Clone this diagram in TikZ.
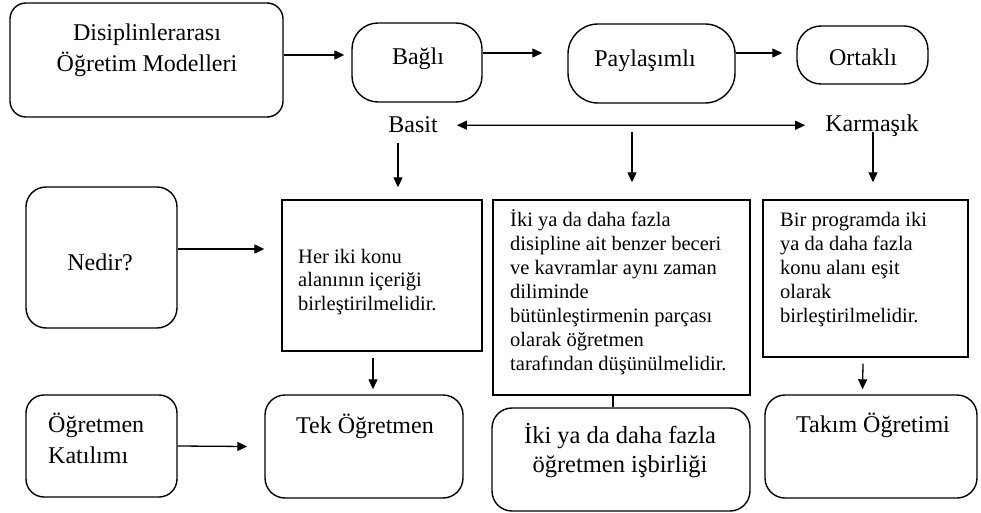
\documentclass[tikz,border=0pt]{standalone}
\usepackage{fontspec}
\setmainfont{Liberation Serif}
\usetikzlibrary{arrows.meta}
\begin{document}
\begin{tikzpicture}[x=1pt,y=-1pt,
  box/.style={draw,line width=1.4pt,inner sep=0pt},
  rbox/.style={box,rounded corners=#1},
  big/.style={inner sep=0pt,anchor=base,font=\fontsize{24}{31}\selectfont},
  small/.style={inner sep=0pt,font=\fontsize{20.5}{24}\selectfont,align=left,anchor=base west},
  arr/.style={line width=1.3pt,-{Triangle[length=10pt,width=9pt]}},
  dbl/.style={line width=1.3pt,{Triangle[length=10pt,width=9pt]}-{Triangle[length=10pt,width=9pt]}},
]
\useasboundingbox[fill=white] (0,0) rectangle (981,513);

% boxes
\node[rbox=16pt,minimum width=273pt,minimum height=114pt] (b1) at (146.5,60) {};
\node[rbox=26pt,minimum width=130pt,minimum height=79pt] (bagli) at (417,62.5) {};
\node[rbox=30pt,minimum width=167pt,minimum height=79pt] (payl) at (651.5,63.5) {};
\node[rbox=24pt,minimum width=131pt,minimum height=58pt] (ortakli) at (862.5,55) {};
\node[rbox=20pt,minimum width=151pt,minimum height=141pt] (nedir) at (101.5,257.5) {};
\node[box,minimum width=200pt,minimum height=151pt] (her) at (382,275.5) {};
\node[box,minimum width=257pt,minimum height=195pt] (mid) at (621.5,297.5) {};
\node[box,minimum width=205pt,minimum height=157pt] (right) at (865.5,278.5) {};
\node[rbox=18pt,minimum width=151pt,minimum height=102pt] (ogk) at (101.5,446) {};
\node[rbox=20pt,minimum width=198pt,minimum height=103pt] (tek) at (364,446.5) {};
\node[rbox=20pt,minimum width=258pt,minimum height=103pt] (iki) at (621,459.5) {};
\node[rbox=20pt,minimum width=212pt,minimum height=103pt] (takim) at (871,446.5) {};

% texts (multi-line nodes: base = baseline of last line)
\node[big,align=center] (t-b1) at (147,72) {Disiplinlerarası\\Öğretim Modelleri};
\node[big] (t-bagli) at (418,65) {Bağlı};
\node[big] (t-payl) at (645,67) {Paylaşımlı};
\node[big] (t-ortakli) at (863,66) {Ortaklı};
\node[big] (basit) at (413,133) {Basit};
\node[big] (karm) at (872,132) {Karmaşık};
\node[big] (t-nedir) at (100,270) {Nedir?};
\node[small,font=\fontsize{20.5}{23.5}\selectfont] (t-her) at (298,310) {Her iki konu\\alanının içeriği\\birleştirilmelidir.};
\node[small] (t-mid) at (510,370) {İki ya da daha fazla\\disipline ait benzer beceri\\ve kavramlar aynı zaman\\diliminde\\bütünleştirmenin parçası\\olarak öğretmen\\tarafından düşünülmelidir.};
\node[small] (t-right) at (780,322) {Bir programda iki\\ya da daha fazla\\konu alanı eşit\\olarak\\birleştirilmelidir.};
\node[big,align=left,anchor=base west] (t-ogk) at (48,463) {Öğretmen\\Katılımı};
\node[big] (t-tek) at (365,433) {Tek Öğretmen};
\node[big,align=center,font=\fontsize{24.5}{29}\selectfont] (t-iki) at (620,472) {İki ya da daha fazla\\öğretmen işbirliği};
\node[big] (t-takim) at (873,432) {Takım Öğretimi};

\coordinate (m) at (632,132);

% connectors
\draw[arr] ([yshift=5pt]b1.east) -- ([xshift=-7pt,yshift=7.5pt]bagli.west);
\draw[arr] ([yshift=9.5pt]bagli.east) -- ([xshift=-25pt,yshift=10.5pt]payl.west);
\draw[arr] ([yshift=10.5pt]payl.east) -- ([xshift=-14pt,yshift=2pt]ortakli.west);
\draw[dbl] ([xshift=19pt]basit.east) -- ([xshift=-20pt,yshift=1pt]karm.west);
\draw[arr] ([xshift=-15pt,yshift=-10pt]basit.base) -- ([xshift=16pt,yshift=12pt]her.north);
\draw[arr] (m) -- ([xshift=10.5pt,yshift=17pt]mid.north);
\draw[arr] ([xshift=1pt]karm.base) -- ([xshift=7.5pt,yshift=17pt]right.north);
\draw[arr] ([yshift=8.5pt]nedir.east) -- ([xshift=-17pt,yshift=26.5pt]her.west);
\draw[arr] ([xshift=-9pt,yshift=-6pt]her.south) -- ([xshift=9pt,yshift=5pt]tek.north);
\draw[arr] (ogk.east) -- ([xshift=-17pt]tek.west);
\draw[line width=1.3pt] ([xshift=-8.5pt]mid.south) -- ([xshift=-8pt]iki.north);
\draw[arr] ([xshift=-2.5pt,yshift=-6pt]right.south) -- ([xshift=-8.5pt,yshift=5pt]takim.north);
\end{tikzpicture}
\end{document}
